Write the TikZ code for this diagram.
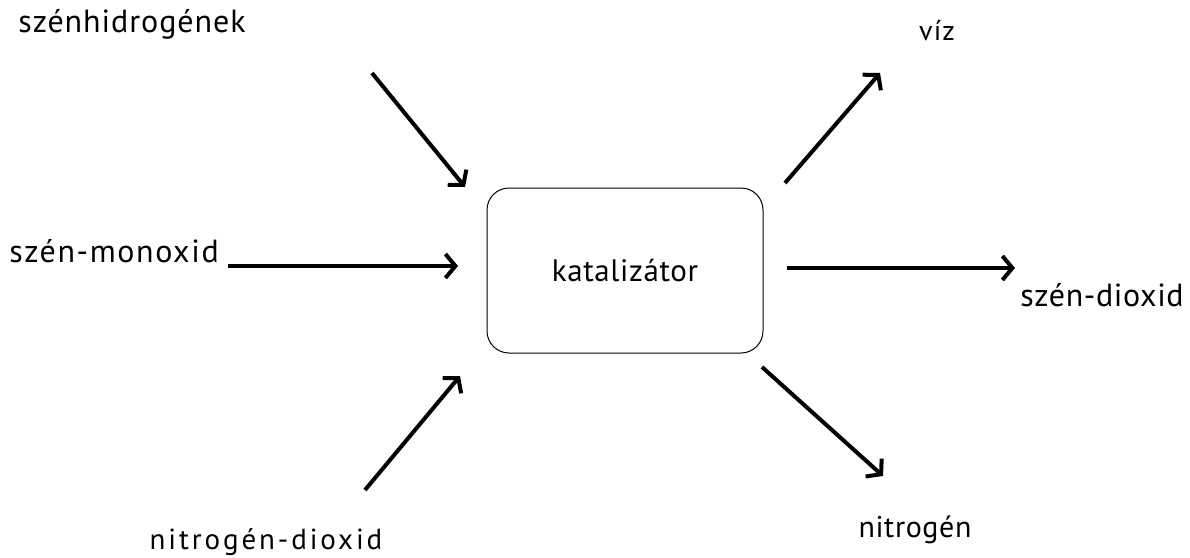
\documentclass[tikz,border=0pt]{standalone}
\usepackage{fontspec}
\setmainfont{PT Sans}
\usetikzlibrary{arrows.meta}
\newcommand{\fs}[2]{\fontsize{#1}{#1}\selectfont\addfontfeature{LetterSpace=#2}}
\begin{document}
\begin{tikzpicture}[x=1pt,y=-1pt,
  flow/.style={line width=4pt,-{Straight Barb[length=10pt,width=24pt,line width=4pt]}},
  lbl/.style={inner sep=0pt}]
\useasboundingbox (0,0) rectangle (1190,557);
\node[draw,line width=1pt,rounded corners=22pt,minimum width=276pt,minimum height=165pt,
  font=\fs{31}{2}] (kat) at (625,270.5) {\raisebox{-5pt}{katalizátor}};
\node[lbl,font=\fs{32}{3}] (l1) at (132,24) {szénhidrogének};
\node[lbl,font=\fs{32}{5}] (l2) at (114,251) {szén-monoxid};
\node[lbl,font=\fs{29}{10}] (l3) at (266,542) {nitrogén-dioxid};
\node[lbl,font=\fs{28}{4}] (r1) at (937,31) {víz};
\node[lbl,font=\fs{32}{2}] (r2) at (1102,295) {szén-dioxid};
\node[lbl,font=\fs{30}{2}] (r3) at (915,530) {nitrogén};
\coordinate (a1s) at (372,73); \coordinate (a1e) at (465,187);
\coordinate (a2s) at (228,266); \coordinate (a2e) at (458,266);
\coordinate (a3s) at (365,490); \coordinate (a3e) at (460,376);
\coordinate (b1s) at (785,183); \coordinate (b1e) at (880,73);
\coordinate (b2s) at (787,268); \coordinate (b2e) at (1015,268);
\coordinate (b3s) at (762,367); \coordinate (b3e) at (883,476);
\draw[flow] (a1s) -- (a1e);
\draw[flow] (a2s) -- (a2e);
\draw[flow] (a3s) -- (a3e);
\draw[flow] (b1s) -- (b1e);
\draw[flow] (b2s) -- (b2e);
\draw[flow] (b3s) -- (b3e);
\end{tikzpicture}
\end{document}
